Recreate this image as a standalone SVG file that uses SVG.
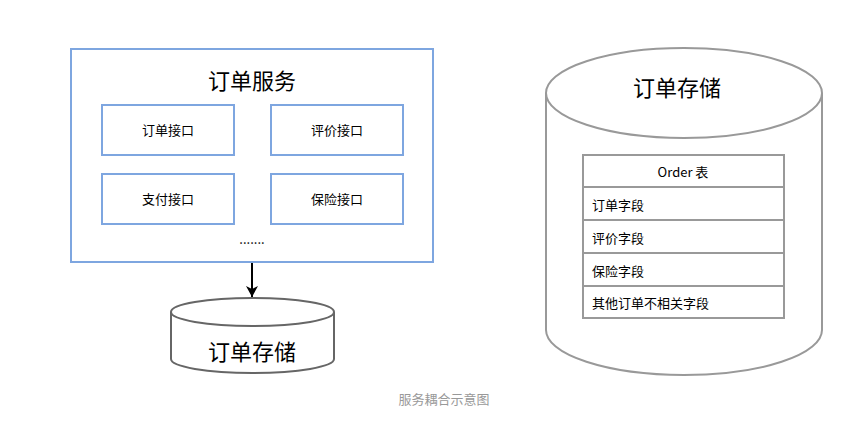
<svg xmlns="http://www.w3.org/2000/svg" width="857" height="426" viewBox="0 0 857 426">
<style>
text{font-family:"Noto Sans CJK SC","Liberation Sans",sans-serif;fill:#000}
.blue{fill:#fff;stroke:#7EA6E0;stroke-width:2}
.cell{fill:#fff;stroke:#999;stroke-width:2}
.t13{font-size:13px}
.t22{font-size:22px}
</style>
<defs>
<marker id="ah" markerWidth="12" markerHeight="12" refX="11" refY="6" orient="auto" markerUnits="userSpaceOnUse" viewBox="0 0 12 12">
<path d="M0,0 L11,6 L0,12 L3,6 Z" fill="#000"/>
</marker>
</defs>
<rect width="857" height="426" fill="#fff"/>
<g id="order-service">
<rect class="blue" x="71" y="49" width="362" height="213"/>
<text class="t22" x="252" y="89" text-anchor="middle">订单服务</text>
<text class="t13" x="252" y="244" text-anchor="middle">.......</text>
</g>
<g id="if-order"><rect class="blue" x="102" y="105" width="132" height="50"/><text class="t13" x="168" y="135" text-anchor="middle">订单接口</text></g>
<g id="if-review"><rect class="blue" x="271" y="105" width="132" height="50"/><text class="t13" x="337" y="135" text-anchor="middle">评价接口</text></g>
<g id="if-pay"><rect class="blue" x="102" y="174" width="132" height="50"/><text class="t13" x="168" y="204" text-anchor="middle">支付接口</text></g>
<g id="if-insure"><rect class="blue" x="271" y="174" width="132" height="50"/><text class="t13" x="337" y="204" text-anchor="middle">保险接口</text></g>
<g id="small-storage">
<path d="M171,312 L171,359 A81.5,14 0 0 0 334,359 L334,312" fill="#fff" stroke="#666" stroke-width="2"/>
<ellipse cx="252.5" cy="312" rx="81.5" ry="14" fill="#fff" stroke="#666" stroke-width="2"/>
<text class="t22" x="252" y="360" text-anchor="middle">订单存储</text>
</g>
<g id="big-storage">
<path d="M546,93 L546,330 A138,45 0 0 0 822,330 L822,93" fill="#fff" stroke="#999" stroke-width="2"/>
<ellipse cx="684" cy="93" rx="138" ry="45" fill="#fff" stroke="#999" stroke-width="2"/>
<text class="t22" x="677" y="96" text-anchor="middle">订单存储</text>
</g>
<g id="order-table">
<rect class="cell" x="583" y="155" width="201" height="32"/>
<text class="t13" x="683" y="177" text-anchor="middle">Order 表</text>
<rect class="cell" x="583" y="187" width="201" height="33"/>
<text class="t13" x="592" y="210">订单字段</text>
<rect class="cell" x="583" y="220" width="201" height="33"/>
<text class="t13" x="592" y="243">评价字段</text>
<rect class="cell" x="583" y="253" width="201" height="33"/>
<text class="t13" x="592" y="276">保险字段</text>
<rect class="cell" x="583" y="286" width="201" height="32"/>
<text class="t13" x="592" y="308">其他订单不相关字段</text>
</g>
<g id="connectors">
<line x1="252" y1="263" x2="252" y2="297" stroke="#000" stroke-width="2" marker-end="url(#ah)"/>
</g>
<text x="444" y="404" text-anchor="middle" style="font-size:13px;fill:#999">服务耦合示意图</text>
</svg>
